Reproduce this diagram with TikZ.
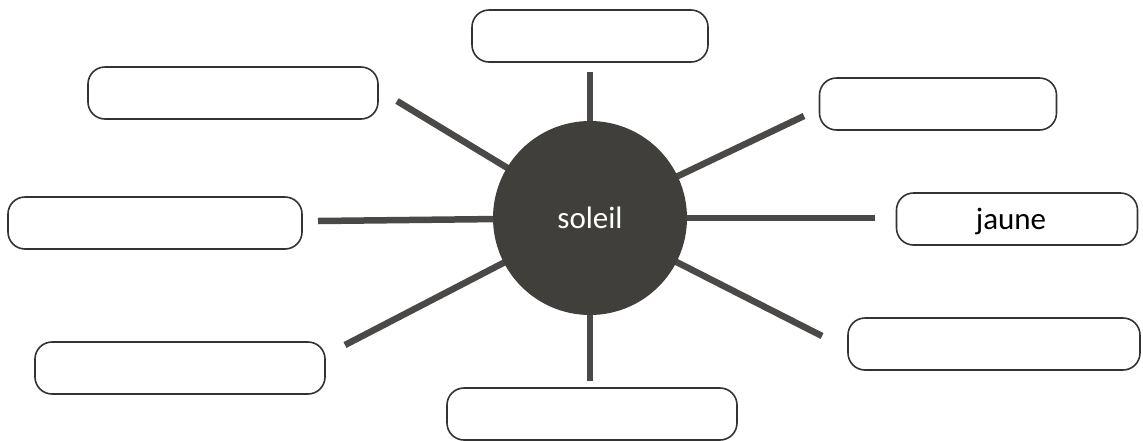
\documentclass[tikz,border=0pt]{standalone}
\usepackage{fontspec}
\setmainfont{Carlito}
\definecolor{sun}{HTML}{403F3C}
\definecolor{ray}{HTML}{4A4947}
\definecolor{edge}{HTML}{333333}
\begin{document}
\begin{tikzpicture}[x=1pt,y=-1pt,
  wordbox/.style={draw=edge,line width=1.6pt,rounded corners=17pt,minimum height=52pt,inner sep=0pt,font=\fontsize{31}{36}\selectfont},
  spoke/.style={draw=ray,line width=6.5pt}]
\useasboundingbox (0,0) rectangle (1143,440);
% boxes
\node[wordbox,minimum width=236pt] (bt) at (590,36) {};
\node[wordbox,minimum width=290pt] (bul) at (233,93) {};
\node[wordbox,minimum width=237pt] (bur) at (938,104) {};
\node[wordbox,minimum width=294pt] (bl) at (155,223) {};
\node[wordbox,minimum width=241pt] (br) at (1017,219) {};
\node[font=\fontsize{31}{36}\selectfont,inner sep=0pt] (jaune) at (1011,221) {jaune};
\node[wordbox,minimum width=290pt] (bll) at (180,368) {};
\node[wordbox,minimum width=292pt] (blr) at (994,344) {};
\node[wordbox,minimum width=290pt] (bb) at (592,414) {};
% spoke ends
\coordinate (c) at (590,218);
\coordinate (et) at (590,72);
\coordinate (eul) at (397,101);
\coordinate (eur) at (804,116);
\coordinate (el) at (318,221);
\coordinate (er) at (875,218);
\coordinate (ell) at (345,345);
\coordinate (elr) at (822,336);
\coordinate (eb) at (590,381);
\foreach \e in {et,eul,eur,el,er,ell,elr,eb} \draw[spoke] (c) -- (\e);
\node[circle,fill=sun,minimum size=194pt,inner sep=0pt,text=white,font=\fontsize{31}{36}\selectfont] (sun) at (c) {soleil};
\end{tikzpicture}
\end{document}
